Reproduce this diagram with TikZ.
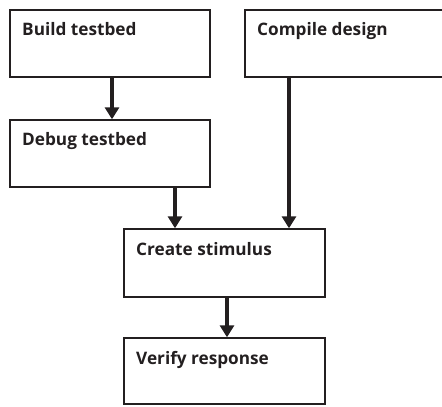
\documentclass[tikz,border=0pt]{standalone}
\usepackage{fontspec}
\setmainfont{Open Sans}
\usetikzlibrary{arrows.meta}
\definecolor{ink}{HTML}{231F20}
\tikzset{
  stepbox/.style={draw=ink, line width=2.4pt, fill=white},
  caption/.style={anchor=base west, inner sep=0pt, text=ink,
    font=\fontsize{17.2}{19}\selectfont\bfseries},
  flow/.style={draw=ink, line width=4pt,
    -{Triangle[width=14pt,length=12pt]}, shorten >=0.5pt}
}
\begin{document}
\begin{tikzpicture}[x=1pt, y=-1pt]
  \useasboundingbox (0,0) rectangle (442,407);
  \clip (0,0) rectangle (442,407);
  % boxes
  \path[stepbox] (10,10) rectangle (210,77);
  \node[minimum width=200pt, minimum height=67pt, inner sep=0pt] (build) at (110,43.5) {};
  \path[stepbox] (245,10) rectangle (452,77);
  \node[minimum width=207pt, minimum height=67pt, inner sep=0pt] (compile) at (348.5,43.5) {};
  \path[stepbox] (10,120) rectangle (210,187);
  \node[minimum width=200pt, minimum height=67pt, inner sep=0pt] (debug) at (110,153.5) {};
  \path[stepbox] (124,229) rectangle (325,297);
  \node[minimum width=201pt, minimum height=68pt, inner sep=0pt] (stimulus) at (224.5,263) {};
  \path[stepbox] (124,338) rectangle (325,404);
  \node[minimum width=201pt, minimum height=66pt, inner sep=0pt] (verify) at (224.5,371) {};
  % captions, placed on their baselines
  \node[caption] (tbuild) at (22,35.7) {Build testbed};
  \node[caption] (tcompile) at (257,35.7) {Compile design};
  \node[caption] (tdebug) at (22,145.7) {Debug testbed};
  \node[caption] (tstim) at (136,255.5) {Create stimulus};
  \node[caption] (tverify) at (136,364.5) {Verify response};
  % connectors
  \draw[flow] (build.south -| 112,0) -- (debug.north -| 112,0);
  \draw[flow] (debug.south -| 175,0) -- (stimulus.north -| 175,0);
  \draw[flow] (compile.south -| 289,0) -- (stimulus.north -| 289,0);
  \draw[flow] (stimulus.south -| 227,0) -- (verify.north -| 227,0);
\end{tikzpicture}
\end{document}
